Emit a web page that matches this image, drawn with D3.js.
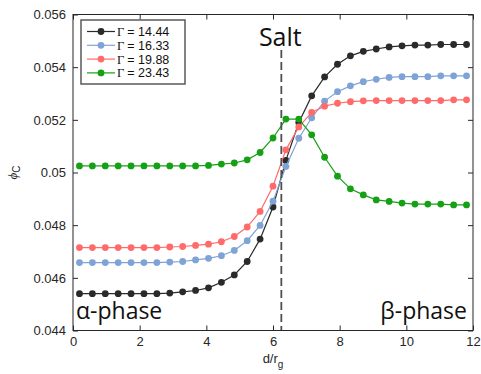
<!DOCTYPE html>
<html><head><meta charset="utf-8">
<script src="https://cdn.jsdelivr.net/npm/d3@7/dist/d3.min.js"></script>
<style>
html,body{margin:0;padding:0;background:#fff;}
svg{display:block;}
</style></head>
<body>
<svg id="c" width="481" height="374"></svg>
<script>
const distances = [0.194,0.581,0.968,1.355,1.742,2.129,2.516,2.903,3.290,3.677,4.065,4.452,4.839,5.226,5.613,6.000,6.387,6.774,7.161,7.548,7.935,8.323,8.710,9.097,9.484,9.871,10.258,10.645,11.032,11.419,11.806];
const gamma1444 = [0.04540,0.04540,0.04540,0.04540,0.04540,0.04540,0.04540,0.04542,0.04547,0.04552,0.04562,0.04583,0.04611,0.04662,0.04747,0.04869,0.05046,0.05190,0.05291,0.05363,0.05411,0.05443,0.05460,0.05469,0.05477,0.05481,0.05484,0.05484,0.05486,0.05486,0.05486];
const gamma1633 = [0.04658,0.04658,0.04658,0.04658,0.04658,0.04658,0.04658,0.04660,0.04662,0.04668,0.04674,0.04684,0.04704,0.04741,0.04799,0.04891,0.05023,0.05130,0.05208,0.05271,0.05307,0.05329,0.05345,0.05354,0.05361,0.05364,0.05364,0.05364,0.05367,0.05367,0.05367];
const gamma1988 = [0.04715,0.04715,0.04715,0.04715,0.04715,0.04715,0.04715,0.04717,0.04719,0.04723,0.04728,0.04737,0.04757,0.04793,0.04852,0.04948,0.05086,0.05173,0.05228,0.05252,0.05263,0.05269,0.05272,0.05273,0.05273,0.05273,0.05273,0.05273,0.05273,0.05276,0.05276];
const gamma2343 = [0.05025,0.05025,0.05025,0.05025,0.05025,0.05025,0.05025,0.05025,0.05025,0.05025,0.05027,0.05032,0.05036,0.05048,0.05076,0.05131,0.05203,0.05203,0.05143,0.05058,0.04986,0.04938,0.04915,0.04896,0.04890,0.04884,0.04880,0.04880,0.04880,0.04877,0.04877];
const gammaValues = ["14.44","16.33","19.88","23.43"];
const seriesColors = ["#2a2a2a","#7fa3d6","#ff6b6b","#16a016"];
const xTicks = [0,2,4,6,8,10,12];
const yTicks = [0.044,0.046,0.048,0.050,0.052,0.054,0.056];
const yTickLabels = ["0.044","0.046","0.048","0.05","0.052","0.054","0.056"];
const saltPosition = 6.25;

const series = [gamma1444,gamma1633,gamma1988,gamma2343].map((v,i)=>({gamma:gammaValues[i],color:seriesColors[i],values:v}));

const svg = d3.select("#c");
const L=73,R=473,T=14.5,B=330.5;
const x = d3.scaleLinear().domain([0,12]).range([L,R]);
const y = d3.scaleLinear().domain([0.044,0.056]).range([B,T]);
const axisColor="#262626";
const fontSans="'Liberation Sans', Arial, Helvetica, sans-serif";

// axes
const gx = svg.append("g").attr("transform",`translate(0,${B})`)
  .call(d3.axisBottom(x).tickValues(xTicks).tickSizeInner(-5).tickSizeOuter(0).tickPadding(6).tickFormat(d3.format("d")));
const gxt = svg.append("g").attr("transform",`translate(0,${T})`)
  .call(d3.axisTop(x).tickValues(xTicks).tickSizeInner(-5).tickSizeOuter(0).tickFormat(""));
const gy = svg.append("g").attr("transform",`translate(${L},0)`)
  .call(d3.axisLeft(y).tickValues(yTicks).tickSizeInner(-5).tickSizeOuter(0).tickPadding(7).tickFormat((d,i)=>yTickLabels[i]));
const gyr = svg.append("g").attr("transform",`translate(${R},0)`)
  .call(d3.axisRight(y).tickValues(yTicks).tickSizeInner(-5).tickSizeOuter(0).tickFormat(""));
[gx,gxt,gy,gyr].forEach(g=>{
  g.select(".domain").remove();
  g.selectAll(".tick line").attr("stroke",axisColor);
  g.selectAll("text").attr("fill",axisColor).style("font-family",fontSans).style("font-size","13px");
});

// series
const line = d3.line().x((d,i)=>x(distances[i])).y(d=>y(d));
series.forEach(s=>{
  const g = svg.append("g");
  g.append("path").attr("d",line(s.values)).attr("fill","none").attr("stroke",s.color).attr("stroke-width",1.2);
  g.selectAll("circle").data(s.values).join("circle")
    .attr("cx",(d,i)=>x(distances[i])).attr("cy",d=>y(d)).attr("r",3.4).attr("fill",s.color);
});

// dashed salt line
svg.append("line").attr("x1",x(saltPosition)).attr("x2",x(saltPosition))
  .attr("y1",50).attr("y2",B).attr("stroke","#505050").attr("stroke-width",1.8).attr("stroke-dasharray","8,4");

// frame
svg.append("rect").attr("x",L).attr("y",T).attr("width",R-L).attr("height",B-T)
  .attr("fill","none").attr("stroke",axisColor).attr("stroke-width",1);

// annotations
const annFont="'Open Sans', 'DejaVu Sans', sans-serif";
svg.append("text").attr("x",x(saltPosition)-1).attr("y",46).attr("text-anchor","middle")
  .style("font-family",annFont).style("font-size","25px").attr("fill","#111").text("Salt");
svg.append("text").attr("x",76).attr("y",319)
  .style("font-family",annFont).style("font-size","23px").attr("fill","#111").text("α-phase");
svg.append("text").attr("x",467).attr("y",319).attr("text-anchor","end")
  .style("font-family",annFont).style("font-size","23px").attr("fill","#111").text("β-phase");

// axis labels
const xl = svg.append("text").attr("x",x(6)).attr("y",363).attr("text-anchor","middle")
  .style("font-family",fontSans).style("font-size","13px").attr("fill",axisColor);
xl.append("tspan").text("d/r");
xl.append("tspan").attr("dy",5).style("font-size","10px").text("g");
const yl = svg.append("text").attr("transform",`translate(17,${y(0.05)}) rotate(-90)`).attr("text-anchor","middle")
  .style("font-family",fontSans).style("font-size","13px").attr("fill",axisColor);
yl.append("tspan").style("font-family","'Liberation Serif', serif").style("font-style","italic").text("ϕ");
yl.append("tspan").attr("dy",3).style("font-size","10px").text("C");

// legend
const lg = svg.append("g");
lg.append("rect").attr("x",81).attr("y",20).attr("width",104).attr("height",64)
  .attr("fill","#fff").attr("stroke","#5a5a5a").attr("stroke-width",1.5);
series.forEach((s,i)=>{
  const yy = 31.5 + i*13.8;
  lg.append("line").attr("x1",87).attr("x2",115).attr("y1",yy).attr("y2",yy).attr("stroke",s.color).attr("stroke-width",1.2);
  lg.append("circle").attr("cx",101).attr("cy",yy).attr("r",3.4).attr("fill",s.color);
  const g1 = lg.append("text").attr("x",117).attr("y",yy+4.5)
    .style("font-family","'Liberation Serif', serif").style("font-size","12.5px").attr("fill","#111").text("Γ");
  const w = g1.node().getComputedTextLength();
  lg.append("text").attr("x",117+w+3).attr("y",yy+4.5)
    .style("font-family",fontSans).style("font-size","12.5px").attr("fill","#111").text("= " + s.gamma);
});
</script>
</body></html>
